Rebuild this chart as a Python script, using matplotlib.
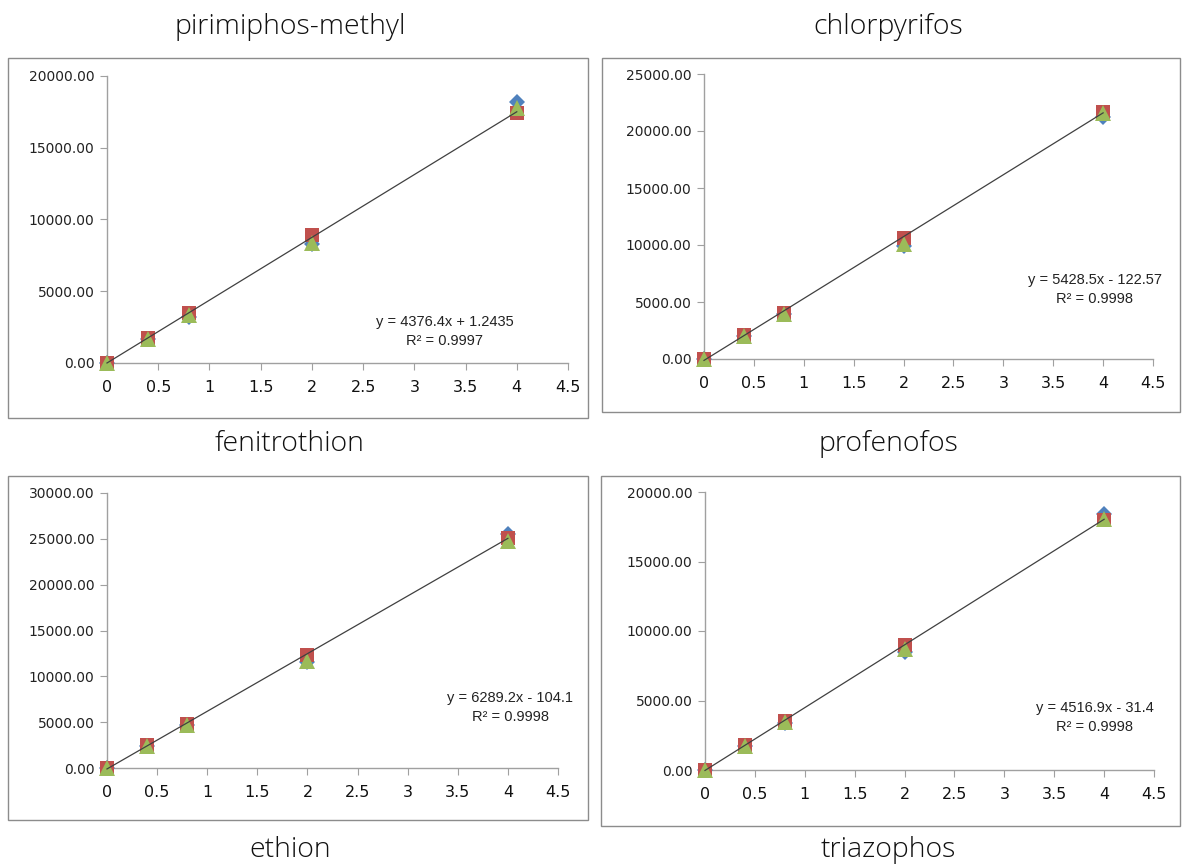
import matplotlib
matplotlib.use("Agg")
import matplotlib.pyplot as plt
from matplotlib.patches import Rectangle
from matplotlib.ticker import FormatStrFormatter, MultipleLocator
import numpy as np

W, H = 1187, 866
conc = [0, 0.4, 0.8, 2, 4]

titles_top = ["pirimiphos-methyl", "chlorpyrifos", "fenitrothion", "profenofos"]
titles_bottom = ["ethion", "triazophos"]

# series per panel: blue (diamond), red (square), green (triangle)
pirimiphos_blue = [0, 1700, 3200, 8300, 18200]
pirimiphos_red = [0, 1750, 3450, 8950, 17400]
pirimiphos_green = [0, 1700, 3350, 8350, 17800]

chlorpyrifos_blue = [0, 2050, 3950, 9900, 21200]
chlorpyrifos_red = [0, 2100, 4000, 10600, 21700]
chlorpyrifos_green = [0, 2050, 3950, 10100, 21600]

fenitrothion_blue = [0, 2450, 4700, 11600, 25500]
fenitrothion_red = [0, 2500, 4800, 12300, 25100]
fenitrothion_green = [0, 2450, 4700, 11700, 24800]

profenofos_blue = [0, 1750, 3400, 8500, 18400]
profenofos_red = [0, 1800, 3500, 9000, 18000]
profenofos_green = [0, 1750, 3450, 8700, 18050]

slopes = [4376.4, 5428.5, 6289.2, 4516.9]
intercepts = [1.2435, -122.57, -104.1, -31.4]
eq_texts = ["y = 4376.4x + 1.2435", "y = 5428.5x - 122.57", "y = 6289.2x - 104.1", "y = 4516.9x - 31.4"]
r2_texts = ["R² = 0.9997", "R² = 0.9998", "R² = 0.9998", "R² = 0.9998"]
ymaxes = [20000, 25000, 30000, 20000]
ysteps = [5000, 5000, 5000, 5000]

series = [
    (pirimiphos_blue, pirimiphos_red, pirimiphos_green),
    (chlorpyrifos_blue, chlorpyrifos_red, chlorpyrifos_green),
    (fenitrothion_blue, fenitrothion_red, fenitrothion_green),
    (profenofos_blue, profenofos_red, profenofos_green),
]

boxes = [(8, 58, 588, 418), (602, 58, 1180, 412), (8, 476, 588, 820), (601, 476, 1180, 826)]
axes_px = [(107, 568, 76, 363), (704, 1153, 74, 359), (107, 558, 493, 768), (705, 1154, 492, 770)]
eq_pos = [(445, 322), (1095, 280), (510, 698), (1095, 708)]
title_pos = [(290, 27), (888, 27), (290, 444), (888, 444)]
bottom_title_pos = [(290, 850), (888, 850)]

fig = plt.figure(figsize=(W / 100, H / 100), dpi=100)
fig.patch.set_facecolor("white")

def fx(px):
    return px / W

def fy(py):
    return 1 - py / H

colors = ["#4F81BD", "#C0504D", "#9BBB59"]
markers = ["D", "s", "^"]
msizes = [8, 10, 11]

for i in range(4):
    bx0, by0, bx1, by1 = boxes[i]
    fig.patches.append(Rectangle((fx(bx0), fy(by1)), fx(bx1 - bx0), (by1 - by0) / H,
                                 transform=fig.transFigure, fill=False, edgecolor="#8c8c8c", lw=1.0))
    ax0, ax1, ayt, ayb = axes_px[i]
    ax = fig.add_axes([fx(ax0), fy(ayb), fx(ax1 - ax0), (ayb - ayt) / H])
    ax.set_xlim(0, 4.5)
    ax.set_ylim(0, ymaxes[i])
    for s, c, m, ms in zip(series[i], colors, markers, msizes):
        ax.plot(conc, s, linestyle="none", marker=m, color=c, markersize=ms, markeredgewidth=0,
                zorder=3, clip_on=False)
    xl = np.array([0, 4])
    ax.plot(xl, slopes[i] * xl + intercepts[i], color="#404040", lw=0.9, zorder=4, clip_on=False)
    for side in ["top", "right"]:
        ax.spines[side].set_visible(False)
    for side in ["left", "bottom"]:
        ax.spines[side].set_color("#a0a0a0")
        ax.spines[side].set_linewidth(1.0)
    ax.xaxis.set_major_locator(MultipleLocator(0.5))
    ax.yaxis.set_major_locator(MultipleLocator(ysteps[i]))
    ax.yaxis.set_major_formatter(FormatStrFormatter("%.2f"))
    ax.xaxis.set_major_formatter(matplotlib.ticker.FuncFormatter(lambda v, p: ("%g" % v)))
    ax.tick_params(axis="y", direction="out", length=5, color="#a0a0a0", labelsize=10, labelcolor="#222222", pad=4)
    ax.tick_params(axis="x", direction="out", length=5, color="#a0a0a0", labelsize=11.5, labelcolor="#111111", pad=7)
    ax.set_facecolor("none")
    ex, ey = eq_pos[i]
    fig.text(fx(ex), fy(ey), eq_texts[i], ha="center", va="center", fontsize=10.5,
             family="Liberation Sans", color="#222222")
    fig.text(fx(ex), fy(ey + 19), r2_texts[i], ha="center", va="center", fontsize=10.5,
             family="Liberation Sans", color="#222222")
    tx, ty = title_pos[i]
    fig.text(fx(tx), fy(ty), titles_top[i], ha="center", va="center", fontsize=20.5,
             family="Open Sans", fontweight="light", color="#111111")

for (tx, ty), t in zip(bottom_title_pos, titles_bottom):
    fig.text(fx(tx), fy(ty), t, ha="center", va="center", fontsize=20.5,
             family="Open Sans", fontweight="light", color="#111111")

fig.savefig("out.png", dpi=100, facecolor="white")
